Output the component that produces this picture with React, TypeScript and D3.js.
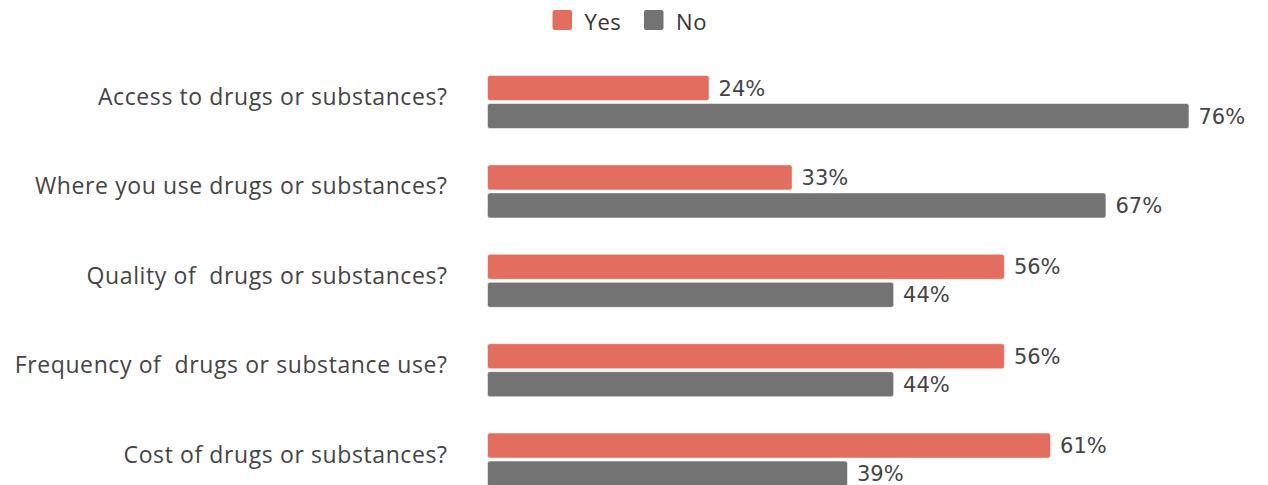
import React from "react";
import * as d3 from "d3";

const categories = [
  "Access to drugs or substances?",
  "Where you use drugs or substances?",
  "Quality of  drugs or substances?",
  "Frequency of  drugs or substance use?",
  "Cost of drugs or substances?",
];
const seriesNames = ["Yes", "No"];
const yesValues = [24, 33, 56, 56, 61];
const noValues = [76, 67, 44, 44, 39];
const colors = ["#E36D5F", "#737373"];

const W = 1268;
const H = 485;

export default function App() {
  const x = d3.scaleLinear().domain([0, 100]).range([487.5, 487.5 + 923]);
  const step = 89.4;
  const bandW = 53;
  const pad = (step - bandW) / step;
  const y0 = 75.5 - (step * pad) / 2;
  const y = d3
    .scaleBand<string>()
    .domain(categories)
    .range([y0, y0 + step * categories.length])
    .paddingInner(pad)
    .paddingOuter(pad / 2);
  const ys = d3
    .scaleBand<string>()
    .domain(seriesNames)
    .range([0, y.bandwidth()])
    .paddingInner(3 / 28);
  const values = [yesValues, noValues];
  const catFont = "'Open Sans', Lato, sans-serif";
  const valFont = "'DejaVu Sans', sans-serif";

  const legendX = [552.5, 644];
  return (
    <svg
      width={W}
      height={H}
      style={{ position: "absolute", left: 0, top: 0, background: "#fff" }}
    >
      {seriesNames.map((s, i) => (
        <g key={s} transform={`translate(${legendX[i]},10)`}>
          <rect width={19.5} height={20} rx={2} fill={colors[i]} />
          <text
            x={32}
            y={19.5}
            fontFamily={catFont}
            fontSize={22}
            letterSpacing={0.6}
            fill="#333"
          >
            {s}
          </text>
        </g>
      ))}
      {categories.map((c, ci) => (
        <g key={c}>
          <text
            x={447.6}
            y={(y(c) as number) + 29.5}
            textAnchor="end"
            fontFamily={catFont}
            fontSize={23}
            letterSpacing={0.6}
            fill="#444"
            style={{ whiteSpace: "pre" }}
          >
            {c}
          </text>
          {seriesNames.map((s, si) => {
            const v = values[si][ci];
            const by = (y(c) as number) + (ys(s) as number);
            return (
              <g key={s}>
                <rect
                  x={x(0)}
                  y={by}
                  width={x(v) - x(0)}
                  height={ys.bandwidth()}
                  rx={2.5}
                  fill={colors[si]}
                  stroke="#fff"
                  strokeWidth={0.5}
                />
                <text
                  x={x(v) + 9.5}
                  y={by + ys.bandwidth() / 2}
                  dy="0.36em"
                  fontFamily={valFont}
                  fontSize={21}
                  fill="#444"
                >
                  {`${v}%`}
                </text>
              </g>
            );
          })}
        </g>
      ))}
    </svg>
  );
}
